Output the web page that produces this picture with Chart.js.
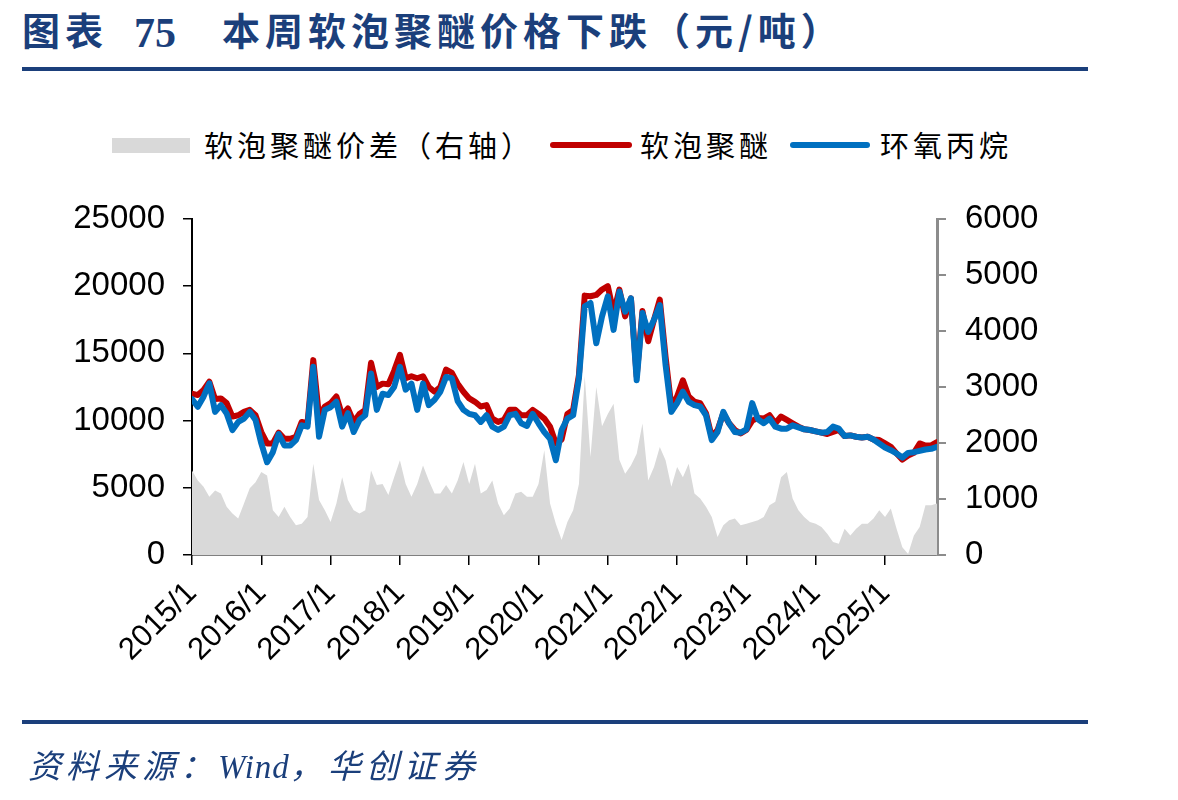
<!DOCTYPE html>
<html>
<head>
<meta charset="utf-8">
<script src="https://cdn.jsdelivr.net/npm/chart.js@4.4.0/dist/chart.umd.min.js"></script>
<style>
  body { margin: 0; width: 1178px; height: 800px; position: relative; overflow: hidden; background: #fff;
         font-family: "Noto Sans CJK SC", sans-serif; }
  #chart { position: absolute; left: 0; top: 0; }
  .title { position: absolute; top: 1px; font-size: 38px; font-weight: 700; color: #1b3f7b; white-space: nowrap; letter-spacing: 5px; }
  .title.num { font-family: "Liberation Serif", serif; font-size: 42px; letter-spacing: 0; top: 9px; }
  .rule { position: absolute; left: 22px; width: 1066px; background: #1b3f7b; }
  .lg { position: absolute; top: 126px; font-size: 29px; color: #000; white-space: nowrap; letter-spacing: 4px; line-height: 36px; }
  .sw { position: absolute; }
  .src { position: absolute; left: 28px; top: 740px; font-size: 33px; font-style: italic; color: #1b3f7b; white-space: nowrap; letter-spacing: 5px; }
  .src .w { font-family: "Liberation Serif", serif; letter-spacing: 1px; }
</style>
</head>
<body>
<div class="title" style="left:22px">图表</div>
<div class="title num" style="left:134px">75</div>
<div class="title" style="left:222px">本周软泡聚醚价格下跌（元/吨）</div>
<div class="rule" style="top:67px;height:4px"></div>

<div class="sw" style="left:112px;top:138px;width:78px;height:15px;background:#d9d9d9"></div>
<div class="lg" style="left:204px">软泡聚醚价差（右轴）</div>
<div class="sw" style="left:550px;top:142px;width:82px;height:6px;border-radius:3px;background:#c00000"></div>
<div class="lg" style="left:640px">软泡聚醚</div>
<div class="sw" style="left:790px;top:142px;width:80px;height:6px;border-radius:3px;background:#0070c0"></div>
<div class="lg" style="left:880px">环氧丙烷</div>

<canvas id="chart" width="1178" height="800"></canvas>

<div class="rule" style="top:720px;height:4px"></div>
<div class="src">资料来源：<span class="w">Wind</span>，华创证券</div>

<script>
// monthly, 2015/1 .. 2025/10
const yearTicks = ['2015/1', '2016/1', '2017/1', '2018/1', '2019/1', '2020/1',
                   '2021/1', '2022/1', '2023/1', '2024/1', '2025/1'];

// 软泡聚醚 (元/吨)
const polyether = [
  12000, 11900, 12280, 12900, 11600, 11650, 11300, 10300, 10400, 10650,
  10800, 10400, 9150, 8300, 8300, 9100, 8650, 8650, 8800, 9900,
  9800, 14500, 10300, 11050, 11300, 11800, 10400, 10900, 9900, 10500,
  10800, 14300, 12500, 12750, 12700, 13700, 14900, 13150, 13300, 13150,
  13300, 12500, 12150, 12500, 13800, 13550, 12750, 12150, 11650, 11400,
  11050, 11150, 10150, 9900, 10050, 10800, 10800, 10400, 10400, 10800,
  10500, 10150, 9550, 8300, 8600, 10500, 10800, 13400, 19300, 19250,
  19350, 19750, 20000, 18000, 19750, 17750, 19100, 13300, 18150, 15900,
  17500, 19000, 14750, 11050, 11800, 13000, 11800, 11400, 11300, 10550,
  8800, 9300, 10550, 9800, 9300, 9050, 9300, 10000, 10200, 10150,
  10400, 9800, 10300, 10050, 9800, 9550, 9350, 9300, 9200, 9100,
  9000, 9150, 9300, 8850, 8900, 8800, 8750, 8800, 8600, 8550,
  8300, 8050, 7550, 7100, 7400, 7600, 8300, 8150, 8150, 8400
];

// 环氧丙烷 (元/吨)
const propyleneOxide = [
  11600, 11030, 11780, 12770, 10650, 11150, 10530, 9290, 9900, 10150,
  10650, 10050, 8300, 6900, 7650, 9000, 8150, 8150, 8550, 9650,
  9550, 14000, 8800, 10800, 11000, 11400, 9550, 10550, 9150, 10050,
  10400, 13500, 10800, 12000, 11900, 12500, 14000, 12300, 12750, 10800,
  12750, 11150, 11550, 12150, 13250, 13150, 11450, 10800, 10500, 10400,
  9900, 10400, 9550, 9300, 9550, 10400, 10500, 9800, 9600, 10500,
  9800, 9150, 8650, 7050, 9300, 10150, 10400, 13150, 18500, 18750,
  15750, 17750, 19250, 16750, 19600, 18100, 19100, 13000, 18000, 16600,
  17500, 18600, 14150, 10650, 11300, 12150, 11400, 11150, 11050, 10400,
  8550, 9150, 10650, 9800, 9150, 9100, 9350, 11300, 10100, 9800,
  10150, 9550, 9400, 9400, 9650, 9500, 9350, 9300, 9200, 9100,
  9150, 9550, 9400, 8850, 8900, 8800, 8750, 8800, 8600, 8300,
  8000, 7800, 7550, 7250, 7600, 7650, 7750, 7850, 7900, 8050
];

// 软泡聚醚价差 (右轴)
const spread = [
  1510, 1330, 1220, 1040, 1150, 1100, 860, 740, 650, 920,
  1190, 1300, 1480, 1420, 800, 680, 860, 680, 530, 560,
  680, 1630, 980, 800, 590, 920, 1390, 980, 800, 740,
  800, 1510, 1250, 1270, 1070, 1390, 1690, 1270, 1040, 1270,
  1600, 1330, 1100, 1100, 1250, 1100, 1330, 1660, 1270, 1630,
  1100, 1160, 1330, 920, 710, 830, 1100, 1130, 1040, 1040,
  1270, 1870, 920, 560, 270, 590, 800, 1270, 3200, 1750,
  3000, 2300, 2520, 2700, 1700, 1450, 1600, 1810, 2350, 1330,
  1570, 1930, 1690, 1220, 1570, 1390, 1630, 1100, 1010, 860,
  680, 320, 530, 620, 650, 530, 560, 590, 620, 680,
  890, 950, 1390, 1480, 1010, 800, 680, 590, 560, 500,
  380, 230, 200, 470, 350, 470, 560, 560, 650, 800,
  680, 830, 470, 140, 20, 350, 500, 890, 890, 920
];

const toPoints = arr => arr.map((v, i) => ({ x: i, y: v }));
const tickFont = { family: 'Liberation Sans, Arial, sans-serif', size: 33 };

new Chart(document.getElementById('chart'), {
  type: 'line',
  data: {
    datasets: [
      {
        label: '环氧丙烷',
        data: toPoints(propyleneOxide),
        borderColor: '#0070c0',
        borderWidth: 6,
        borderJoinStyle: 'round',
        borderCapStyle: 'round',
        pointRadius: 0,
        tension: 0,
        yAxisID: 'y',
        order: 0
      },
      {
        label: '软泡聚醚',
        data: toPoints(polyether),
        borderColor: '#c00000',
        borderWidth: 6,
        borderJoinStyle: 'round',
        borderCapStyle: 'round',
        pointRadius: 0,
        tension: 0,
        yAxisID: 'y',
        order: 1
      },
      {
        label: '软泡聚醚价差（右轴）',
        data: toPoints(spread),
        borderWidth: 0,
        backgroundColor: '#d9d9d9',
        fill: 'origin',
        pointRadius: 0,
        tension: 0,
        yAxisID: 'y1',
        order: 2
      }
    ]
  },
  options: {
    responsive: false,
    animation: false,
    layout: { padding: { top: 219, left: 0, right: 0, bottom: 0 } },
    plugins: { legend: { display: false }, tooltip: { enabled: false } },
    scales: {
      x: {
        type: 'linear',
        min: 0,
        max: polyether.length - 1,
        afterBuildTicks: scale => { scale.ticks = yearTicks.map((_, i) => ({ value: i * 12 })); },
        afterFit: scale => { scale.height = 245; },
        grid: { drawOnChartArea: false, tickLength: 10, color: '#000', lineWidth: 1.5 },
        border: { color: '#000', width: 1.5 },
        ticks: {
          autoSkip: false,
          minRotation: 45,
          maxRotation: 45,
          padding: 10,
          color: '#000',
          font: { family: 'Liberation Sans, Arial, sans-serif', size: 31 },
          callback: v => yearTicks[v / 12]
        }
      },
      y: {
        position: 'left',
        min: 0,
        max: 25000,
        afterFit: scale => { scale.width = 192; },
        grid: { drawOnChartArea: false, tickLength: 9, color: '#000', lineWidth: 1.5 },
        border: { color: '#000', width: 2 },
        ticks: { stepSize: 5000, padding: 18, color: '#000', font: tickFont, callback: v => String(v) }
      },
      y1: {
        position: 'right',
        min: 0,
        max: 6000,
        afterFit: scale => { scale.width = 241; },
        grid: { drawOnChartArea: false, tickLength: 9, color: '#8c8c8c', lineWidth: 2 },
        border: { color: '#8c8c8c', width: 3 },
        ticks: { stepSize: 1000, padding: 19, color: '#000', font: tickFont, callback: v => String(v) }
      }
    }
  }
});
</script>
</body>
</html>
